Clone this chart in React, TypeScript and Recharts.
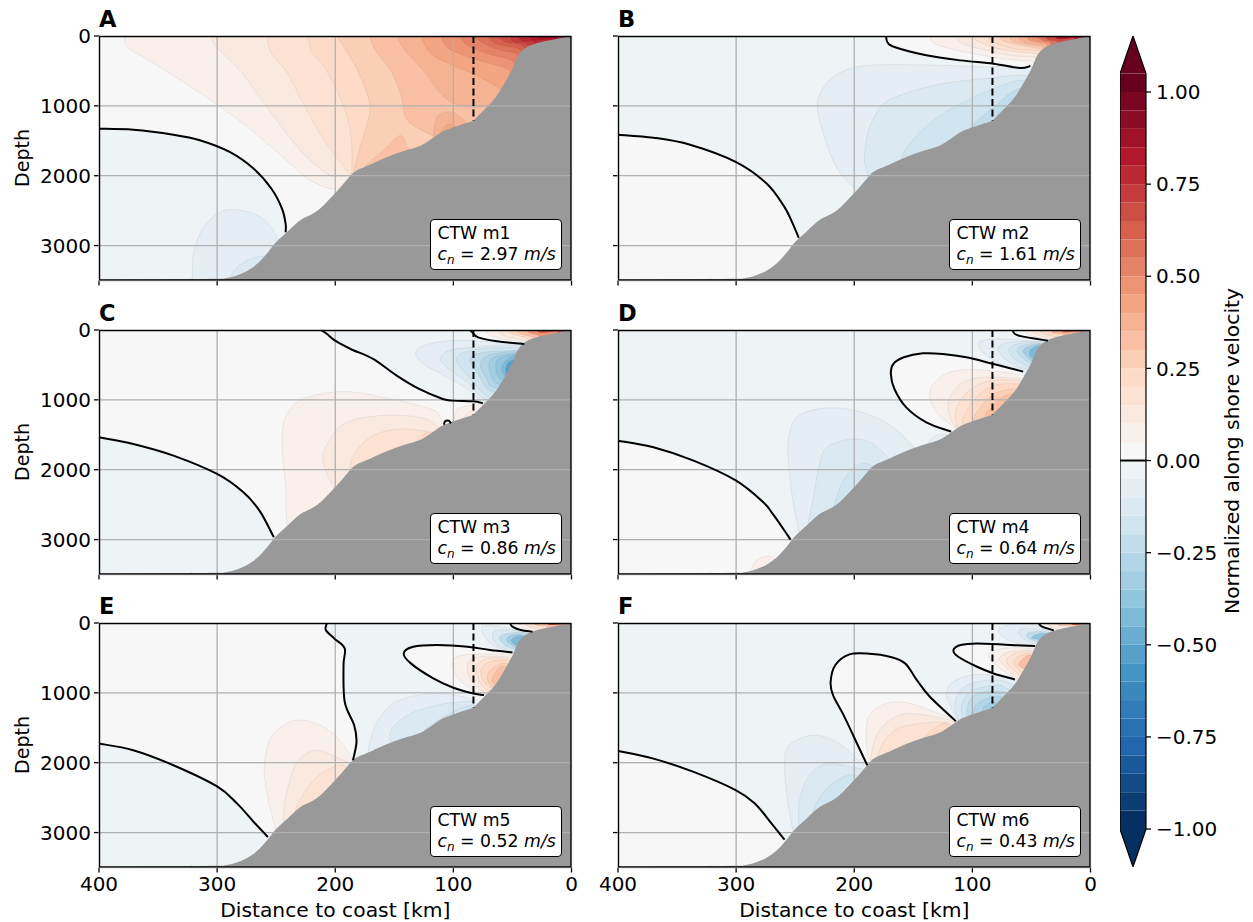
import { CartesianGrid, Scatter, ScatterChart, XAxis, YAxis } from "recharts";

type Pt = [number, number];
type Region = { lo: number; pts: Pt[]; tail?: Pt[] };

const FONT = "'DejaVu Sans', sans-serif";
const RDBU_R = ["#053061", "#2166ac", "#4393c3", "#92c5de", "#d1e5f0", "#f7f7f7", "#fddbc7", "#f4a582", "#d6604d", "#b2182b", "#67001f"];

const X_TICKS = [400, 300, 200, 100, 0];
const Y_TICKS = [0, 1000, 2000, 3000];
const CBAR_TICKS = [1, 0.75, 0.5, 0.25, 0, -0.25, -0.5, -0.75, -1];

// bottom profile, km from coast and depth in m
const BATHY: Pt[] = [
  [0, 0], [12, 38], [29, 100], [39, 172], [45, 277], [50, 468], [57, 683], [64, 874], [71, 1007], [78.5, 1136],
  [83, 1208], [91, 1256], [101, 1313], [110, 1375], [119.5, 1485], [129, 1580], [142, 1647], [156, 1733], [170, 1838],
  [182, 1924], [187, 1996], [193, 2115], [200, 2249], [210, 2426], [218, 2535], [230, 2640], [241, 2808], [251, 2965],
  [258, 3118], [266, 3261], [275, 3366], [286, 3443], [295, 3471], [300, 3476], [371, 3490], [400, 3500],
];
const BATHY_TAIL: Pt[] = [[420, 3500], [420, 3600], [-20, 3600], [-20, 0]];
const FRAME: Pt[] = [[400, 0], [0, 0], [0, 3500], [400, 3500], [400, 0]];
const SHELF_BREAK: Pt[] = [[83, 0], [83, 1210]];
const WHOLE: Pt[] = [[420, -100], [-20, -100], [-20, 3600], [420, 3600]];
const SHORE: Pt[] = [[-20, 3600], [-20, -100]];

const A_BASE = 0;
const A_ZERO: Pt[][] = [
  [[400, 1327], [371, 1342], [337, 1413], [314, 1495], [289, 1662], [269, 1900], [254, 2187], [245, 2473], [242, 2688], [242, 2808]],
];
const A_REGIONS: Region[] = [
  { lo: -0.05, pts: A_ZERO[0], tail: [[240, 3600], [420, 3600], [420, 1327]] },
  { lo: -0.1, pts: [[321, 3600], [321, 3500], [320, 3118], [313, 2785], [300, 2546], [286, 2483], [269, 2546], [258, 2665], [249, 2880], [247, 3020], [245, 3300]] },
  { lo: -0.15, pts: [[292, 3600], [289, 3452], [283, 3309], [272, 3190], [261, 3152], [254, 3142], [245, 3300]] },
  { lo: 0.05, pts: [[378, 0], [376, 158], [353, 396], [322, 730], [299, 993], [274, 1304], [254, 1590], [238, 1829], [221, 2068], [199, 2187], [187, 1972]], tail: SHORE },
  { lo: 0.1, pts: [[304, 0], [302, 134], [282, 468], [264, 874], [241, 1399], [224, 1733], [204, 1996], [187, 1996]], tail: SHORE },
  { lo: 0.15, pts: [[258, 0], [254, 253], [241, 516], [227, 969], [213, 1399], [201, 1686], [190, 1924], [186, 1996]], tail: SHORE },
  { lo: 0.2, pts: [[223, 0], [220, 229], [210, 420], [196, 874], [189, 1208], [186, 1590], [186, 1996]], tail: SHORE },
  { lo: 0.25, pts: [[199, 0], [184, 396], [173, 826], [171, 1113], [179, 1590], [184, 1924], [184, 2000]], tail: SHORE },
  { lo: 0.3, pts: [[171, 0], [166, 205], [152, 525], [144, 869], [141, 1141], [134, 1280], [117, 1433], [112, 1500]], tail: SHORE },
  { lo: 0.3, pts: [[178, 1950], [173, 1829], [159, 1638], [145, 1423], [138, 1614], [130, 1640]] },
  { lo: 0.35, pts: [[148, 0], [141, 205], [122, 563], [114, 764], [101, 955], [83, 1017], [71, 1007], [69, 1100]], tail: SHORE },
  { lo: 0.35, pts: [[117, 1440], [115, 1208], [111, 1113], [101, 1089], [91, 1208], [86, 1265]] },
  { lo: 0.4, pts: [[111, 1380], [105, 1265], [98, 1294], [96, 1320]] },
  { lo: 0.4, pts: [[128, 0], [119, 253], [103, 401], [83, 544], [60, 754], [57, 800]], tail: SHORE },
  { lo: 0.45, pts: [[111, 0], [104, 181], [83, 325], [55, 468], [50, 600]], tail: SHORE },
  { lo: 0.5, pts: [[95, 0], [88, 134], [71, 253], [51, 348], [46, 500]], tail: SHORE },
  { lo: 0.55, pts: [[83, 0], [74, 110], [60, 205], [47, 253], [42, 400]], tail: SHORE },
  { lo: 0.6, pts: [[71, 0], [64, 110], [45, 181], [40, 320]], tail: SHORE },
  { lo: 0.65, pts: [[62, 0], [56, 86], [42, 134], [34, 300]], tail: SHORE },
  { lo: 0.7, pts: [[52, 0], [49, 86], [38, 110], [29, 250]], tail: SHORE },
  { lo: 0.75, pts: [[45, 0], [42, 72], [32, 86], [25, 200]], tail: SHORE },
  { lo: 0.8, pts: [[36, 0], [33, 62], [21, 53], [16, 150]], tail: SHORE },
  { lo: 0.85, pts: [[28, 0], [26, 38], [12, 29], [12, 100]], tail: SHORE },
];

const B_BASE = -0.05;
const B_ZERO: Pt[][] = [
  [[400, 1413], [370, 1456], [339, 1557], [300, 1805], [274, 2115], [259, 2450], [252, 2689], [247, 2889]],
  [[173, 0], [172, 86], [166, 158], [139, 277], [110, 349], [82, 396], [60, 458], [51, 430]],
];
const B_REGIONS: Region[] = [
  { lo: 0, pts: B_ZERO[0], tail: [[240, 3600], [420, 3600], [420, 1413]] },
  { lo: -0.1, pts: [[45, 700], [52.5, 418], [88, 444], [125, 420], [173, 411], [198, 444], [218, 587], [229, 826], [231, 1065], [226, 1399], [218, 1781], [209, 2020], [199, 2197], [192, 2400]], tail: [[100, 2500]] },
  { lo: -0.15, pts: [[45, 700], [55, 563], [91, 611], [125, 683], [153, 802], [175, 969], [187, 1304], [191, 1638], [191, 1829], [188, 1996], [186, 2100]], tail: [[100, 2300]] },
  { lo: -0.2, pts: [[45, 800], [58, 635], [82, 754], [110, 969], [133, 1208], [153, 1542], [161, 1805], [160, 1900]], tail: [[80, 1800]] },
  { lo: -0.25, pts: [[50, 900], [61, 754], [82, 1017], [100, 1280], [102, 1340]], tail: [[70, 1400]] },
  { lo: 0, pts: B_ZERO[1], tail: [[40, 500], [-20, -100], [173, -100]] },
  { lo: 0.05, pts: [[136, 0], [132, 110], [113, 205], [91, 277], [68, 339], [49, 358]], tail: SHORE },
  { lo: 0.1, pts: [[115, 0], [108, 110], [88, 205], [68, 277], [47, 301]], tail: SHORE },
  { lo: 0.15, pts: [[101, 0], [94, 86], [74, 196], [45, 253]], tail: SHORE },
  { lo: 0.2, pts: [[88, 0], [82, 86], [65, 181], [44, 205]], tail: SHORE },
  { lo: 0.25, pts: [[78, 0], [71, 86], [43, 181]], tail: SHORE },
  { lo: 0.3, pts: [[69, 0], [64, 86], [41, 158]], tail: SHORE },
  { lo: 0.35, pts: [[61, 0], [57, 86], [40, 134]], tail: SHORE },
  { lo: 0.45, pts: [[54, 0], [51, 62], [37, 110]], tail: SHORE },
  { lo: 0.55, pts: [[45, 0], [41, 62], [34, 86]], tail: SHORE },
  { lo: 0.65, pts: [[38, 0], [36, 53], [28, 72]], tail: SHORE },
  { lo: 0.8, pts: [[31, 0], [27, 43], [14, 24]], tail: SHORE },
];

const C_BASE = 0;
const C_ZERO: Pt[][] = [
  [[400, 1536], [371, 1631], [337, 1798], [300, 2061], [278, 2320], [264, 2590], [252, 2967]],
  [[212, 0], [207, 57], [200, 153], [187, 272], [168, 415], [148, 653], [129, 844], [109, 987], [100, 1011], [83, 1021], [75, 1049]],
  [[86, 0], [84, 33], [79, 105], [63, 162], [40, 200]],
  [[108, 1355], [107, 1307], [104, 1297], [102, 1336]],
];
const C_REGIONS: Region[] = [
  { lo: -0.05, pts: C_ZERO[0], tail: [[245, 3600], [420, 3600], [420, 1536]] },
  { lo: -0.05, pts: C_ZERO[1], tail: [[60, 1300], [-20, -100], [212, -100]] },
  { lo: 0, pts: C_ZERO[2], tail: [[30, 400], [-20, -100], [86, -100]] },
  { lo: 0.05, pts: [[73, 0], [66, 95], [40, 176]], tail: SHORE },
  { lo: 0.1, pts: [[63, 0], [57, 81], [39, 153]], tail: SHORE },
  { lo: 0.2, pts: [[55, 0], [50, 57], [38, 114]], tail: SHORE },
  { lo: 0.3, pts: [[46, 0], [43, 57], [33, 95]], tail: SHORE },
  { lo: 0.45, pts: [[38, 0], [35, 48], [28, 72]], tail: SHORE },
  { lo: 0.65, pts: [[29, 0], [26, 38], [12, 19]], tail: SHORE },
  { lo: -0.1, pts: [[30, 250], [43, 200], [74, 162], [103, 153], [125, 224], [132, 343], [125, 487], [108, 653], [88, 844], [77, 1011], [65, 1100]] },
  { lo: -0.15, pts: [[35, 260], [45, 215], [83, 248], [104, 296], [111, 415], [104, 558], [88, 749], [76, 964], [65, 1050]] },
  { lo: -0.2, pts: [[35, 280], [45, 248], [77, 272], [94, 343], [97, 463], [88, 654], [74, 916], [65, 1000]] },
  { lo: -0.25, pts: [[38, 300], [46, 296], [74, 320], [86, 415], [80, 606], [71, 844], [62, 900]] },
  { lo: -0.3, pts: [[40, 310], [47, 296], [71, 367], [77, 510], [71, 725], [69, 797], [60, 850]] },
  { lo: -0.35, pts: [[40, 320], [47, 320], [66, 391], [70, 534], [66, 725], [58, 800]] },
  { lo: -0.4, pts: [[40, 330], [48, 343], [62, 415], [64, 534], [62, 677], [55, 750]] },
  { lo: -0.45, pts: [[42, 350], [49, 367], [57, 463], [59, 558], [57, 653], [52, 700]] },
  { lo: -0.55, pts: [[44, 400], [51, 439], [55, 510], [55, 630], [50, 680]] },
  { lo: 0.05, pts: [[236, 2900], [241, 2776], [242, 2251], [245, 1631], [242, 1250], [227, 987], [192, 882], [153, 987], [119, 1130], [112, 1226], [109, 1321], [100, 1500]] },
  { lo: 0.1, pts: [[195, 2400], [200, 2299], [210, 1918], [208, 1679], [193, 1345], [162, 1226], [128, 1250], [114, 1369], [105, 1500]] },
  { lo: 0.15, pts: [[182, 2050], [187, 2013], [184, 1774], [168, 1512], [145, 1417], [119, 1464], [110, 1500]] },
  { lo: 0.2, pts: [[138, 1700], [132, 1607], [125, 1488], [117, 1464], [112, 1500]] },
  { lo: 0.05, pts: [[100, 1320], [98, 1178], [94, 1107], [83, 1073], [76, 1059], [70, 1150]] },
  { lo: 0.1, pts: [[92, 1300], [91, 1250], [87, 1178], [83, 1154], [78, 1200]] },
];

const D_BASE = -0.05;
const D_ZERO: Pt[][] = [
  [[400, 1584], [370, 1679], [336, 1870], [300, 2156], [277, 2466], [269, 2633], [260, 2848], [254, 3000]],
  [[57, 596], [82, 487], [105, 391], [125, 343], [142, 334], [158, 391], [167, 487], [169, 630], [166, 844], [156, 1107], [139, 1321], [118, 1455]],
  [[66, 0], [64, 57], [57, 95], [36, 153]],
];
const D_REGIONS: Region[] = [
  { lo: 0, pts: D_ZERO[0], tail: [[245, 3600], [420, 3600], [420, 1584]] },
  { lo: 0.05, pts: [[290, 3500], [287, 3420], [283, 3300], [275, 3244], [269, 3253], [262, 3400]] },
  { lo: 0, pts: D_ZERO[1], tail: [[100, 1700], [50, 900]] },
  { lo: 0, pts: D_ZERO[2], tail: [[25, 300], [-20, -100], [66, -100]] },
  { lo: 0.05, pts: [[57, 0], [51, 81], [34, 143]], tail: SHORE },
  { lo: 0.1, pts: [[50, 0], [45, 72], [33, 119]], tail: SHORE },
  { lo: 0.2, pts: [[43, 0], [40, 57], [30, 95]], tail: SHORE },
  { lo: 0.35, pts: [[34, 0], [31, 48], [23, 57]], tail: SHORE },
  { lo: 0.6, pts: [[26, 0], [21, 33], [9, 19]], tail: SHORE },
  { lo: -0.1, pts: [[30, 200], [40, 176], [71, 129], [91, 143], [95, 224], [88, 367], [74, 510], [57, 591], [50, 700]] },
  { lo: -0.15, pts: [[32, 200], [43, 162], [68, 176], [78, 248], [74, 391], [61, 534], [55, 558], [48, 650]] },
  { lo: -0.2, pts: [[34, 220], [43, 176], [62, 200], [69, 286], [64, 415], [54, 510], [47, 600]] },
  { lo: -0.25, pts: [[36, 230], [43, 191], [58, 224], [62, 296], [58, 391], [53, 463], [46, 550]] },
  { lo: -0.35, pts: [[38, 240], [43, 200], [54, 248], [57, 310], [53, 391], [51, 429], [45, 500]] },
  { lo: -0.45, pts: [[40, 260], [44, 224], [51, 286], [51, 367], [46, 450]] },
  { lo: 0.05, pts: [[50, 750], [57, 653], [96, 568], [119, 606], [133, 773], [136, 964], [129, 1202], [113, 1417], [100, 1500]], tail: [[80, 1400]] },
  { lo: 0.1, pts: [[50, 800], [58, 701], [91, 677], [110, 773], [120, 1011], [119, 1250], [112, 1417], [100, 1500]], tail: [[80, 1400]] },
  { lo: 0.15, pts: [[52, 800], [60, 725], [85, 725], [103, 868], [113, 1107], [113, 1369], [100, 1500]], tail: [[80, 1400]] },
  { lo: 0.2, pts: [[54, 830], [61, 773], [82, 797], [98, 987], [106, 1202], [108, 1321], [100, 1450]], tail: [[80, 1400]] },
  { lo: 0.25, pts: [[58, 880], [64, 844], [79, 892], [91, 1059], [99, 1274], [95, 1400]], tail: [[75, 1300]] },
  { lo: 0.3, pts: [[60, 950], [67, 916], [77, 987], [86, 1154], [89, 1226], [85, 1350]], tail: [[70, 1200]] },
  { lo: -0.1, pts: [[245, 3000], [247, 2871], [252, 2442], [255, 2013], [256, 1631], [251, 1297], [237, 1154], [214, 1116], [189, 1202], [167, 1393], [151, 1655], [148, 1750]] },
  { lo: -0.15, pts: [[237, 2800], [239, 2752], [235, 2442], [230, 1965], [223, 1679], [201, 1560], [184, 1631], [172, 1822], [168, 1900]] },
  { lo: -0.2, pts: [[218, 2560], [215, 2394], [209, 2156], [198, 1941], [187, 1927], [185, 2050]] },
  { lo: -0.1, pts: [[140, 1700], [136, 1584], [129, 1503], [122, 1503], [118, 1600]] },
];

const E_BASE = 0;
const E_ZERO: Pt[][] = [
  [[400, 1726], [371, 1821], [337, 2036], [300, 2340], [283, 2586], [269, 2849], [257, 3064]],
  [[207, 0], [208, 100], [201, 220], [192, 363], [193, 602], [192, 1128], [184, 1463], [182, 1702], [185, 1965]],
  [[52, 0], [50, 53], [43, 100], [33, 124]],
  [[50, 421], [69, 387], [88, 339], [114, 315], [134, 339], [142, 435], [136, 578], [117, 793], [100, 927], [83, 1009], [74, 1032]],
];
const E_REGIONS: Region[] = [
  { lo: -0.05, pts: E_ZERO[0], tail: [[245, 3600], [420, 3600], [420, 1726]] },
  { lo: -0.05, pts: E_ZERO[1], tail: [[150, 2200], [-20, 2200], [-20, -100], [207, -100]] },
  { lo: 0, pts: E_ZERO[2], tail: [[20, 300], [-20, -100], [52, -100]] },
  { lo: 0.05, pts: [[46, 0], [40, 76], [31, 115]], tail: SHORE },
  { lo: 0.15, pts: [[40, 0], [36, 53], [28, 91]], tail: SHORE },
  { lo: 0.3, pts: [[32, 0], [29, 38], [21, 38]], tail: SHORE },
  { lo: 0.6, pts: [[21, 0], [18, 29], [6, 19]], tail: SHORE },
  { lo: 0, pts: E_ZERO[3], tail: [[60, 1400], [40, 600]] },
  { lo: 0.05, pts: [[45, 500], [53, 449], [83, 449], [97, 483], [101, 602], [97, 770], [86, 937], [74, 1009], [65, 1100]] },
  { lo: 0.1, pts: [[46, 520], [55, 483], [77, 483], [87, 554], [88, 698], [83, 865], [74, 985], [62, 1050]] },
  { lo: 0.15, pts: [[48, 540], [56, 507], [71, 507], [80, 602], [80, 746], [76, 889], [71, 961], [60, 1000]] },
  { lo: 0.2, pts: [[50, 560], [57, 531], [69, 554], [76, 650], [76, 770], [70, 913], [58, 950]] },
  { lo: 0.25, pts: [[52, 590], [59, 578], [67, 650], [71, 746], [69, 889], [58, 920]] },
  { lo: 0.3, pts: [[52, 640], [60, 626], [64, 698], [67, 793], [66, 865], [58, 880]] },
  { lo: -0.1, pts: [[25, 180], [35, 134], [69, 38], [76, 100], [67, 315], [51, 411], [40, 500]] },
  { lo: -0.15, pts: [[28, 180], [40, 124], [62, 100], [67, 172], [63, 315], [52, 387], [40, 470]] },
  { lo: -0.25, pts: [[30, 180], [42, 134], [57, 163], [61, 220], [57, 315], [51, 363], [40, 440]] },
  { lo: -0.35, pts: [[35, 200], [43, 163], [52, 182], [55, 244], [51, 315], [42, 400]] },
  { lo: -0.45, pts: [[38, 220], [43, 182], [49, 210], [51, 258], [48, 306], [42, 360]] },
  { lo: -0.1, pts: [[170, 1950], [172, 1821], [166, 1463], [153, 1176], [136, 1056], [114, 1009], [91, 1056], [84, 1119], [80, 1250]], tail: [[125, 1800]] },
  { lo: -0.15, pts: [[153, 1800], [153, 1702], [152, 1510], [136, 1295], [114, 1176], [94, 1128], [84, 1138], [80, 1300]], tail: [[125, 1800]] },
  { lo: -0.2, pts: [[128, 1700], [124, 1534], [117, 1439], [100, 1271], [84, 1176], [80, 1300]], tail: [[110, 1600]] },
  { lo: 0.05, pts: [[248, 3050], [251, 2921], [258, 2419], [260, 2036], [255, 1654], [241, 1439], [227, 1391], [210, 1487], [196, 1678], [186, 1941], [183, 2100]] },
  { lo: 0.1, pts: [[242, 2850], [244, 2801], [241, 2419], [232, 1988], [216, 1821], [200, 1917], [187, 2012], [183, 2100]] },
  { lo: 0.15, pts: [[232, 2800], [234, 2682], [224, 2371], [210, 2132], [193, 2036], [190, 2200]] },
];

const F_BASE = -0.05;
const F_ZERO: Pt[][] = [
  [[400, 1831], [370, 1941], [336, 2132], [300, 2395], [284, 2586], [271, 2849], [259, 3102]],
  [[189, 2036], [197, 1749], [209, 1319], [218, 1032], [220, 841], [216, 602], [204, 449], [187, 440], [170, 483], [157, 578], [147, 817], [136, 1056], [114, 1405]],
  [[47, 330], [68, 315], [96, 292], [110, 315], [116, 387], [112, 483], [96, 626], [82, 722], [64, 808]],
  [[44, 0], [41, 53], [31, 105]],
];
const F_REGIONS: Region[] = [
  { lo: 0, pts: F_ZERO[0], tail: [[245, 3600], [420, 3600], [420, 1831]] },
  { lo: -0.1, pts: [[250, 3100], [252, 2968], [257, 2466], [259, 2036], [255, 1749], [235, 1606], [215, 1702], [198, 1941], [188, 2108], [190, 2300]] },
  { lo: -0.15, pts: [[245, 2950], [247, 2873], [246, 2514], [238, 2180], [223, 2012], [204, 2060], [192, 2108], [190, 2300]] },
  { lo: -0.2, pts: [[232, 2800], [235, 2705], [226, 2419], [212, 2227], [199, 2180], [190, 2350]] },
  { lo: 0, pts: F_ZERO[1], tail: [[110, 1800], [190, 2300]] },
  { lo: 0.05, pts: [[185, 2050], [188, 1941], [190, 1606], [187, 1319], [173, 1152], [156, 1138], [136, 1248], [115, 1391], [110, 1500]], tail: [[150, 2000]] },
  { lo: 0.1, pts: [[184, 2050], [186, 1941], [181, 1606], [170, 1391], [153, 1295], [125, 1367], [117, 1405], [110, 1500]], tail: [[150, 2000]] },
  { lo: 0.15, pts: [[182, 2000], [179, 1845], [173, 1654], [159, 1486], [125, 1420], [112, 1550]], tail: [[150, 2000]] },
  { lo: 0.2, pts: [[145, 1750], [139, 1606], [130, 1486], [122, 1439], [115, 1550]] },
  { lo: 0, pts: F_ZERO[2], tail: [[70, 1100], [40, 600]] },
  { lo: 0.05, pts: [[40, 400], [50, 363], [74, 363], [86, 449], [82, 578], [71, 722], [65, 784], [60, 900]] },
  { lo: 0.1, pts: [[42, 420], [50, 387], [68, 411], [77, 507], [72, 626], [65, 746], [58, 850]] },
  { lo: 0.15, pts: [[44, 440], [51, 411], [64, 435], [71, 531], [67, 650], [62, 722], [56, 800]] },
  { lo: 0.2, pts: [[46, 460], [53, 435], [61, 483], [65, 554], [62, 650], [55, 750]] },
  { lo: 0.3, pts: [[46, 490], [53, 459], [58, 531], [61, 602], [54, 680]] },
  { lo: 0, pts: F_ZERO[3], tail: [[20, 300], [-20, -100], [44, -100]] },
  { lo: 0.1, pts: [[37, 0], [34, 53], [27, 100]], tail: SHORE },
  { lo: 0.25, pts: [[29, 0], [26, 38], [17, 43]], tail: SHORE },
  { lo: 0.6, pts: [[17, 0], [14, 29], [5, 19]], tail: SHORE },
  { lo: -0.1, pts: [[25, 150], [34, 105], [54, 5], [68, 29], [78, 100], [72, 220], [57, 315], [47, 330], [35, 500]] },
  { lo: -0.15, pts: [[28, 150], [37, 100], [57, 76], [61, 148], [55, 244], [45, 306], [35, 400]] },
  { lo: -0.25, pts: [[30, 170], [38, 124], [51, 134], [54, 196], [48, 258], [44, 268], [36, 350]] },
  { lo: -0.4, pts: [[33, 180], [40, 148], [47, 172], [50, 220], [43, 244], [36, 300]] },
  { lo: -0.1, pts: [[108, 1450], [113, 1367], [120, 1128], [122, 985], [116, 841], [101, 746], [82, 746], [67, 803], [60, 900]], tail: [[85, 1500]] },
  { lo: -0.15, pts: [[108, 1450], [112, 1367], [115, 1176], [110, 961], [98, 851], [79, 817], [68, 865], [60, 950]], tail: [[85, 1500]] },
  { lo: -0.2, pts: [[104, 1420], [109, 1319], [108, 1128], [99, 961], [79, 889], [71, 937], [62, 1000]], tail: [[85, 1500]] },
  { lo: -0.25, pts: [[102, 1400], [105, 1271], [101, 1080], [91, 985], [74, 985], [65, 1050]], tail: [[85, 1500]] },
  { lo: -0.3, pts: [[97, 1400], [99, 1248], [94, 1128], [82, 1056], [77, 1056], [68, 1100]], tail: [[85, 1500]] },
  { lo: -0.35, pts: [[90, 1350], [91, 1224], [86, 1152], [82, 1128], [75, 1200]], tail: [[85, 1500]] },
];

const PANELS = [
  { letter: "A", mode: "m1", speed: "2.97", base: A_BASE, regions: A_REGIONS, zero: A_ZERO, left: 99, top: 36 },
  { letter: "B", mode: "m2", speed: "1.61", base: B_BASE, regions: B_REGIONS, zero: B_ZERO, left: 618, top: 36 },
  { letter: "C", mode: "m3", speed: "0.86", base: C_BASE, regions: C_REGIONS, zero: C_ZERO, left: 99, top: 329.5 },
  { letter: "D", mode: "m4", speed: "0.64", base: D_BASE, regions: D_REGIONS, zero: D_ZERO, left: 618, top: 329.5 },
  { letter: "E", mode: "m5", speed: "0.52", base: E_BASE, regions: E_REGIONS, zero: E_ZERO, left: 99, top: 623 },
  { letter: "F", mode: "m6", speed: "0.43", base: F_BASE, regions: F_REGIONS, zero: F_ZERO, left: 618, top: 623 },
];

const PLOT_W = 472.5;
const PLOT_H = 244.5;
const AXIS_W = 99;
const XAXIS_H = 54;
const TOP_PAD = 20;

// contourf colours: band i of 41 takes cmap(i / 40)
function bandColor(lo: number) {
  const t = (Math.round((lo + 1) / 0.05) / 40) * 10;
  const i = Math.min(9, Math.floor(t));
  const f = t - i;
  const hex = (c: string, k: number) => parseInt(c.slice(1 + k * 2, 3 + k * 2), 16);
  const ch = [0, 1, 2].map((k) => Math.round(hex(RDBU_R[i], k) * (1 - f) + hex(RDBU_R[i + 1], k) * f));
  return `rgb(${ch.join(",")})`;
}

// Catmull-Rom through the first n points, straight segments through the rest
function smoothPath(p: { x: number; y: number }[], n: number, close: boolean) {
  let d = `M${p[0].x},${p[0].y}`;
  for (let i = 0; i < n - 1; i++) {
    const a = p[Math.max(i - 1, 0)];
    const b = p[i];
    const c = p[i + 1];
    const e = p[Math.min(i + 2, n - 1)];
    d += `C${b.x + (c.x - a.x) / 6},${b.y + (c.y - a.y) / 6} ${c.x - (e.x - b.x) / 6},${c.y - (e.y - b.y) / 6} ${c.x},${c.y}`;
  }
  for (let i = Math.max(n, 1); i < p.length; i++) d += `L${p[i].x},${p[i].y}`;
  return close ? d + "Z" : d;
}

const toRows = (pts: Pt[]) => pts.map(([x, y]) => ({ x, y }));
const noMark = () => null;

function fillSeries(key: string, pts: Pt[], n: number, fill: string, stroke = "none", zIndex?: number) {
  return (
    <Scatter
      key={key}
      data={toRows(pts)}
      shape={noMark}
      isAnimationActive={false}
      zIndex={zIndex}
      line={(p: any) => <path d={smoothPath(p.points, n, true)} fill={fill} stroke={stroke} strokeWidth={0.6} />}
    />
  );
}

function lineSeries(key: string, pts: Pt[], width: number, zIndex: number, dash?: string, smooth = true) {
  return (
    <Scatter
      key={key}
      data={toRows(pts)}
      shape={noMark}
      isAnimationActive={false}
      zIndex={zIndex}
      line={(p: any) => (
        <path d={smoothPath(p.points, smooth ? pts.length : 1, false)} fill="none" stroke="#000" strokeWidth={width} strokeDasharray={dash} />
      )}
    />
  );
}

function Panel({ panel, column, bottom }: { panel: (typeof PANELS)[number]; column: number; bottom: boolean }) {
  const tickStyle = { fill: "#000", fontSize: 20, fontFamily: FONT };
  return (
    <div style={{ position: "absolute", left: panel.left - AXIS_W, top: panel.top - TOP_PAD }}>
      <ScatterChart width={AXIS_W + PLOT_W + 30} height={TOP_PAD + PLOT_H + XAXIS_H} margin={{ top: TOP_PAD, right: 30, bottom: 0, left: 0 }}>
        <XAxis
          type="number"
          dataKey="x"
          domain={[0, 400]}
          reversed
          allowDataOverflow
          ticks={X_TICKS}
          interval={0}
          height={XAXIS_H}
          axisLine={false}
          tickSize={5}
          tickMargin={4}
          tickLine={{ stroke: "#000", strokeWidth: 1.3 }}
          tick={tickStyle}
          tickFormatter={bottom ? (v: number) => String(v) : () => ""}
          label={bottom ? { value: "Distance to coast [km]", position: "insideBottom", offset: 5, fill: "#000", fontSize: 20.3, fontFamily: FONT } : undefined}
        />
        <YAxis
          type="number"
          dataKey="y"
          domain={[0, 3500]}
          reversed
          allowDataOverflow
          ticks={Y_TICKS}
          interval={0}
          width={AXIS_W}
          axisLine={false}
          tickSize={5}
          tickMargin={3}
          tickLine={{ stroke: "#000", strokeWidth: 1.3 }}
          tick={tickStyle}
          tickFormatter={column === 0 ? (v: number) => String(v) : () => ""}
        />
        {fillSeries("base", WHOLE, 0, bandColor(panel.base))}
        {panel.regions.map((r, i) =>
          fillSeries(`r${i}`, [...r.pts, ...(r.tail ?? [])], r.pts.length, bandColor(r.lo), "rgba(60,60,60,0.13)")
        )}
        <CartesianGrid horizontal={false} stroke="#b0b0b0" strokeWidth={1.3} zIndex={650} />
        {fillSeries("bathy", [...BATHY, ...BATHY_TAIL], BATHY.length, "#999999", "none", 660)}
        <CartesianGrid vertical={false} stroke="#b0b0b0" strokeWidth={1.3} zIndex={670} />
        {panel.zero.map((z, i) => lineSeries(`z${i}`, z, 2, 680))}
        {lineSeries("break", SHELF_BREAK, 2, 690, "7 3.5", false)}
        {lineSeries("frame", FRAME, 2.4, 695, undefined, false)}
      </ScatterChart>
      <div style={{ position: "absolute", left: AXIS_W, top: TOP_PAD - 31, fontFamily: FONT, fontSize: 22.5, fontWeight: "bold", lineHeight: "28px" }}>
        {panel.letter}
      </div>
      {column === 0 && (
        <div
          style={{
            position: "absolute",
            left: 22,
            top: TOP_PAD + PLOT_H / 2,
            fontFamily: FONT,
            fontSize: 19,
            whiteSpace: "nowrap",
            transform: "translate(-50%, -50%) rotate(-90deg)",
          }}
        >
          Depth
        </div>
      )}
      <div
        style={{
          position: "absolute",
          left: AXIS_W + PLOT_W - 142,
          top: TOP_PAD + 183,
          width: 132,
          height: 51,
          boxSizing: "border-box",
          padding: "3px 0 0 7px",
          background: "#fff",
          border: "1px solid #000",
          borderRadius: 4,
          fontFamily: FONT,
          fontSize: 17.3,
          lineHeight: "21px",
          whiteSpace: "nowrap",
          color: "#000",
        }}
      >
        <div>CTW {panel.mode}</div>
        <div>
          <i>c</i>
          <i style={{ fontSize: 12, position: "relative", top: 4 }}>n</i> = {panel.speed} <i>m/s</i>
        </div>
      </div>
    </div>
  );
}

const CBAR_LEVELS = Array.from({ length: 41 }, (_, i) => Math.round((i * 0.05 - 1) * 100) / 100);
const CBAR_TOP: Pt[] = [[0, 1.05], [0.5, 1.152], [1, 1.05]];
const CBAR_BOTTOM: Pt[] = [[0, -1], [0.5, -1.103], [1, -1]];
const CBAR_OUTLINE: Pt[] = [[0, -1], [0.5, -1.103], [1, -1], [1, 1.05], [0.5, 1.152], [0, 1.05], [0, -1]];
const CBAR_ZERO: Pt[] = [[0, 0], [1, 0]];

function Colorbar() {
  const fmt = (v: number) => (v < 0 ? "\u2212" : "") + Math.abs(v).toFixed(2);
  return (
    <div style={{ position: "absolute", left: 1120, top: 26 }}>
      <ScatterChart width={133} height={851} margin={{ top: 10, right: 107, bottom: 10, left: 0 }}>
        <XAxis type="number" dataKey="x" domain={[0, 1]} hide />
        <YAxis
          type="number"
          dataKey="y"
          orientation="right"
          domain={[-1.103, 1.152]}
          allowDataOverflow
          ticks={CBAR_TICKS}
          interval={0}
          width={0.01}
          axisLine={false}
          tickSize={5}
          tickMargin={5}
          tickLine={{ stroke: "#000", strokeWidth: 1.3 }}
          tick={{ fill: "#000", fontSize: 20, fontFamily: FONT, textAnchor: "start" }}
          tickFormatter={fmt}
        />
        {CBAR_LEVELS.map((lo) =>
          fillSeries(`c${lo}`, [[0, lo], [1, lo], [1, lo + 0.05], [0, lo + 0.05]], 0, bandColor(lo))
        )}
        {fillSeries("top", CBAR_TOP, 0, bandColor(1))}
        {fillSeries("bottom", CBAR_BOTTOM, 0, bandColor(-1))}
        {lineSeries("outline", CBAR_OUTLINE, 1.2, 700, undefined, false)}
        {lineSeries("zero", CBAR_ZERO, 2, 700, undefined, false)}
      </ScatterChart>
    </div>
  );
}

export default function App() {
  return (
    <div style={{ position: "fixed", left: 0, top: 0, width: 1253, height: 922, background: "#fff", overflow: "hidden" }}>
      {PANELS.map((p, i) => (
        <Panel key={p.letter} panel={p} column={i % 2} bottom={i >= 4} />
      ))}
      <Colorbar />
      <div
        style={{
          position: "absolute",
          left: 1232,
          top: 451,
          fontFamily: FONT,
          fontSize: 20.3,
          whiteSpace: "nowrap",
          color: "#000",
          transform: "translate(-50%, -50%) rotate(-90deg)",
        }}
      >
        Normalized along shore velocity
      </div>
    </div>
  );
}
